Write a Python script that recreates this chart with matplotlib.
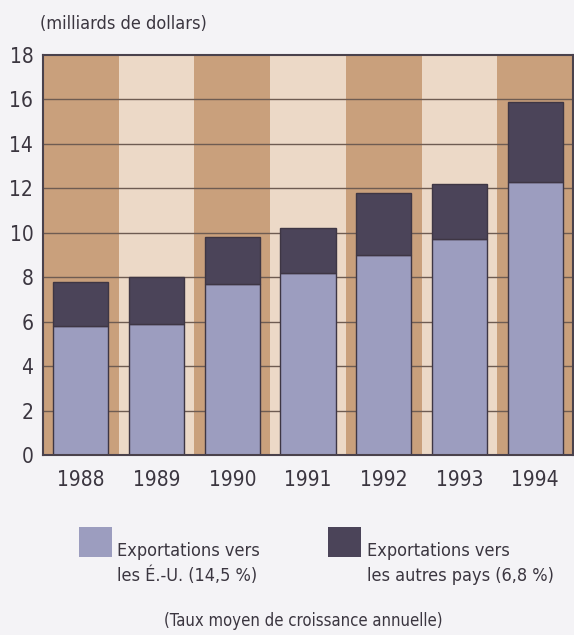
import numpy as np
import matplotlib.pyplot as plt
from matplotlib import font_manager

# data (milliards de dollars)
years = ['1988', '1989', '1990', '1991', '1992', '1993', '1994']
exports_us = [5.8, 5.9, 7.7, 8.2, 9.0, 9.7, 12.3]
exports_other = [2.0, 2.1, 2.1, 2.0, 2.8, 2.5, 3.6]
yticks = [0, 2, 4, 6, 8, 10, 12, 14, 16, 18]
legend_lines = [['Exportations vers', 'les É.-U. (14,5 %)'],
                ['Exportations vers', 'les autres pays (6,8 %)']]

# pick a narrow font if one is installed
names = set(f.name for f in font_manager.fontManager.ttflist)
condensed = [f for f in font_manager.fontManager.ttflist
             if f.stretch in ('condensed', 'semi-condensed', 'extra-condensed')]
fam = 'DejaVu Sans'
stretch = 'normal'
if 'Liberation Sans Narrow' in names:
    fam = 'Liberation Sans Narrow'
elif condensed:
    fam = condensed[0].name
    stretch = condensed[0].stretch
plt.rcParams['font.family'] = [fam, 'DejaVu Sans']
plt.rcParams['font.stretch'] = stretch
narrow = fam != 'DejaVu Sans'
fs = 15 if narrow else 13

bg = '#f4f3f6'
col_dark = '#c9a07c'
col_light = '#ecd9c7'
c_us = '#9c9dbf'
c_other = '#4b4459'
edge = '#3e3644'
txt = '#3b3640'

fig = plt.figure(figsize=(5.74, 6.35), dpi=100, facecolor=bg)
ax = fig.add_axes([0.0749, 0.2835, 0.9233, 0.63])
ax.set_facecolor(bg)

x = np.arange(len(years))
for i in x:
    ax.axvspan(i - 0.5, i + 0.5, color=col_dark if i % 2 == 0 else col_light,
               zorder=0, lw=0)

for y in yticks[1:-1]:
    ax.axhline(y, color='#6e5c52', lw=1.0, zorder=1)

ax.bar(x, exports_us, width=0.727, color=c_us, edgecolor=edge, lw=1.0, zorder=2)
ax.bar(x, exports_other, width=0.727, bottom=exports_us, color=c_other,
       edgecolor=edge, lw=1.0, zorder=2)

ax.set_xlim(-0.5, 6.5)
ax.set_ylim(0, 18)
ax.set_yticks(yticks)
ax.set_xticks(x)
ax.set_xticklabels(years)
ax.tick_params(length=0, labelsize=fs + 2, colors=txt)
ax.tick_params(axis='x', pad=11)
ax.tick_params(axis='y', pad=7)
for s in ax.spines.values():
    s.set_color('#4a424c')
    s.set_linewidth(1.5)

fig.text(0.07, 0.962, '(milliards de dollars)', fontsize=fs, color=txt,
         ha='left', va='center')

# legend
patch_x = [0.1376, 0.5714]
text_x = [0.2038, 0.6394]
for px, tx, col, lines in zip(patch_x, text_x, [c_us, c_other], legend_lines):
    fig.patches.append(plt.Rectangle((px, 0.1228), 0.0575, 0.0472,
                                     transform=fig.transFigure,
                                     facecolor=col, edgecolor='none'))
    fig.text(tx, 0.1245, lines[0], fontsize=fs, color=txt, ha='left', va='baseline')
    fig.text(tx, 0.0850, lines[1], fontsize=fs, color=txt, ha='left', va='baseline')

fig.text(0.528, 0.022, '(Taux moyen de croissance annuelle)', fontsize=fs - 1,
         color=txt, ha='center', va='center')

fig.savefig('out.png', dpi=100, facecolor=bg)
